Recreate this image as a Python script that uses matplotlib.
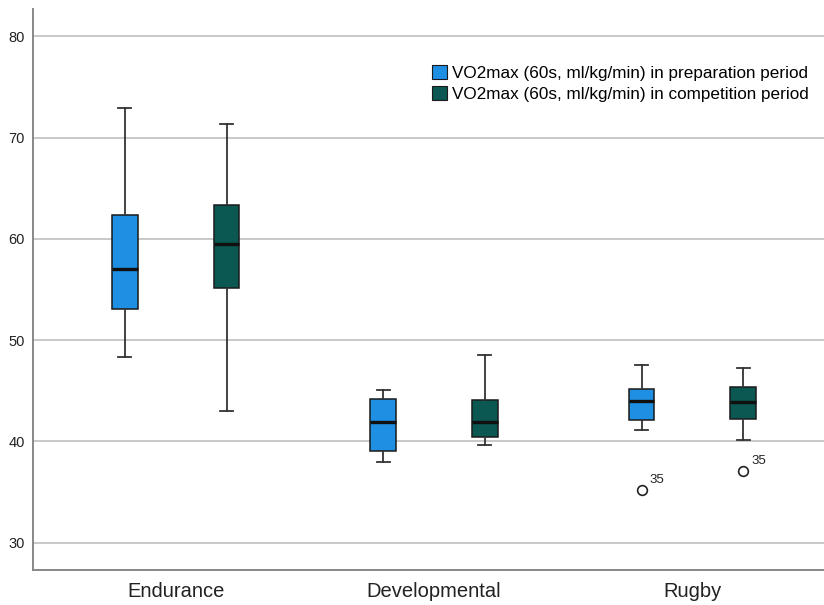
import numpy as np
import matplotlib.pyplot as plt
from matplotlib.patches import Patch

plt.rcParams['font.family'] = ['Liberation Sans', 'DejaVu Sans']

# box statistics per group, read as whisker low / Q1 / median / Q3 / whisker high
groups = ['Endurance', 'Developmental', 'Rugby']
periods = ['VO2max (60s, ml/kg/min) in preparation period',
           'VO2max (60s, ml/kg/min) in competition period']

prep_whislo = [48.3, 38.0, 41.1]
prep_q1 = [53.1, 39.0, 42.15]
prep_med = [57.0, 41.95, 44.0]
prep_q3 = [62.4, 44.2, 45.2]
prep_whishi = [72.9, 45.1, 47.5]
prep_fliers = [[], [], [35.2]]

comp_whislo = [43.0, 39.6, 40.1]
comp_q1 = [55.1, 40.4, 42.2]
comp_med = [59.5, 41.95, 43.9]
comp_q3 = [63.3, 44.1, 45.4]
comp_whishi = [71.3, 48.5, 47.2]
comp_fliers = [[], [], [37.1]]

outlier_case = '35'
colors = ['#1e8fe3', '#0b5752']


def make_stats(lo, q1, med, q3, hi, fl):
    return [dict(whislo=a, q1=b, med=c, q3=d, whishi=e, fliers=f)
            for a, b, c, d, e, f in zip(lo, q1, med, q3, hi, fl)]


fig = plt.figure(figsize=(8.24, 6.05), dpi=100)
ax = fig.add_axes([0.040, 0.058, 0.96, 0.927])

x = np.arange(len(groups))
offset = 0.197
width = 0.1

series = [make_stats(prep_whislo, prep_q1, prep_med, prep_q3, prep_whishi, prep_fliers),
          make_stats(comp_whislo, comp_q1, comp_med, comp_q3, comp_whishi, comp_fliers)]

for i, stats in enumerate(series):
    pos = x + (i * 2 - 1) * offset
    ax.bxp(stats, positions=pos, widths=width, patch_artist=True,
           manage_ticks=False,
           boxprops=dict(facecolor=colors[i], edgecolor='#1a1a1a', linewidth=1.1),
           medianprops=dict(color='#101010', linewidth=2.4),
           whiskerprops=dict(color='#333333', linewidth=1.3),
           capprops=dict(color='#333333', linewidth=1.3),
           capwidths=width * 0.5,
           flierprops=dict(marker='o', markersize=7, markerfacecolor='white',
                           markeredgecolor='#222222', markeredgewidth=1.2))
    for p, s in zip(pos, stats):
        for v in s['fliers']:
            ax.annotate(outlier_case, (p, v), xytext=(6, 5), textcoords='offset points',
                        fontsize=9.5, color='#222222')

ax.set_xlim(-0.552, 2.509)
ax.set_ylim(27.3, 82.7)
ax.set_yticks([30, 40, 50, 60, 70, 80])
ax.set_xticks(x)
ax.set_xticklabels(groups, fontsize=14.5, color='#222222')
ax.tick_params(axis='y', labelsize=10.5, colors='#222222', length=0, pad=6)
ax.tick_params(axis='x', length=0, pad=9)

ax.yaxis.grid(True, color='#c8c8c8', linewidth=1.4)
ax.set_axisbelow(True)
for side in ['top', 'right']:
    ax.spines[side].set_visible(False)
for side in ['left', 'bottom']:
    ax.spines[side].set_color('#888888')
    ax.spines[side].set_linewidth(1.4)

handles = [Patch(facecolor=c, edgecolor='#1a1a1a', linewidth=0.8) for c in colors]
fig.legend(handles, periods, loc='upper left', bbox_to_anchor=(0.5245, 0.893),
           frameon=False, fontsize=12.3, handlelength=0.88, handleheight=0.88,
           handletextpad=0.3, labelspacing=0.32, borderaxespad=0, borderpad=0)

fig.savefig('out.png', dpi=100)
